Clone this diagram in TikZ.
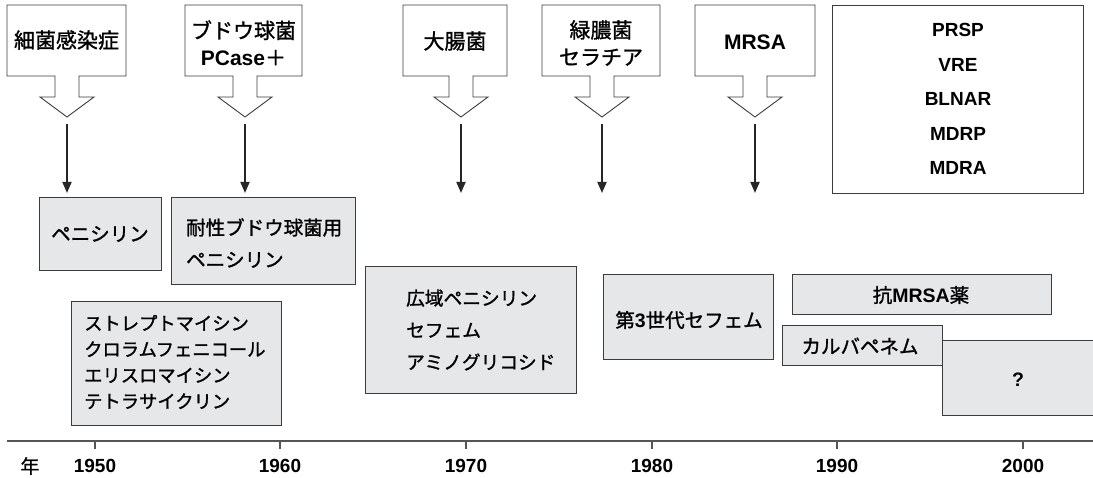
\documentclass[tikz,border=0pt]{standalone}
\usepackage{fontspec}
\setmainfont{Liberation Sans}
\newfontfamily\jp[FakeBold=1.2]{Noto Sans CJK JP}
\usetikzlibrary{arrows.meta}
\definecolor{boxfill}{HTML}{E6E7E8}
\definecolor{edge}{HTML}{3C3C3C}
\definecolor{axiscol}{HTML}{555555}
\newcommand{\jpt}[1]{{\jp\mdseries #1}}
\newcommand{\mycallout}[3]{%
  \draw[calloutbox] (#1,5) -- (#2,5) -- (#2,76) -- ({#3+12},76) -- ({#3+12},97)
    -- ({#3+27},97) -- (#3,117) -- ({#3-27},97) -- ({#3-12},97) -- ({#3-12},76)
    -- (#1,76) -- cycle;}
\tikzset{
  calloutbox/.style={draw=edge, fill=white, line width=0.9pt, line join=miter},
  gbox/.style={draw=edge, fill=boxfill, line width=1.1pt},
  toptext/.style={font=\fontsize{21}{27}\selectfont\bfseries, align=center, inner sep=0pt},
  gtext/.style={font=\fontsize{19.5}{32}\selectfont\bfseries, align=left, inner sep=0pt},
  listtext/.style={font=\fontsize{19}{34.5}\selectfont\bfseries, align=center, inner sep=0pt},
  thinarrow/.style={draw=black!85, line width=1.8pt, -{Triangle[length=11pt,width=9pt]}},
  yearlabel/.style={font=\fontsize{19}{22}\selectfont\bfseries, inner sep=0pt},
  tick/.style={draw=axiscol, line width=1.2pt}
}
\begin{document}
\begin{tikzpicture}[x=1pt,y=-1pt]
\useasboundingbox (0,0) rectangle (1093,478);

% callouts
\mycallout{7}{126}{67}
\mycallout{185}{302}{245}
\mycallout{403}{507}{461}
\mycallout{542}{660}{602}
\mycallout{695}{815}{755}
\node[toptext] (c1) at (66.5,40) {\jpt{細菌感染症}};
\node[toptext] (c2) at (243.5,43) {\jpt{ブドウ球菌}\\PCase\jpt{＋}};
\node[toptext] (c3) at (455,41) {\jpt{大腸菌}};
\node[toptext] (c4) at (601,43) {\jpt{緑膿菌}\\\jpt{セラチア}};
\node[toptext] (c5) at (755,42) {MRSA};

% list box
\node[draw=edge, fill=white, line width=0.9pt, minimum width=251pt, minimum height=188pt, anchor=north west, inner sep=0pt] (list) at (832,5) {};
\node[listtext] (listt) at (958,99) {PRSP\\VRE\\BLNAR\\MDRP\\MDRA};

% thin arrows
\foreach \n/\x in {a1/67,a2/245,a3/461,a4/602,a5/755}{
  \coordinate (\n s) at (\x,124);
  \coordinate (\n e) at (\x,193);
  \draw[thinarrow] (\n s) -- (\n e);
}

% grey boxes
\node[gbox, anchor=north west, minimum width=122pt, minimum height=73pt, inner sep=0pt] (pen) at (39,197) {};
\node[gtext] (pent) at (100,234) {\jpt{ペニシリン}};
\node[gbox, anchor=north west, minimum width=184pt, minimum height=87pt, inner sep=0pt] (tai) at (171,197) {};
\node[gtext, anchor=west] (tait) at (186,243) {\jpt{耐性ブドウ球菌用}\\\jpt{ペニシリン}};
\node[gbox, anchor=north west, minimum width=210pt, minimum height=124pt, inner sep=0pt] (str) at (71,301) {};
\node[gtext, anchor=west, font=\fontsize{18.3}{26}\selectfont] (strt) at (84,362) {\jpt{ストレプトマイシン}\\\jpt{クロラムフェニコール}\\\jpt{エリスロマイシン}\\\jpt{テトラサイクリン}};
\node[gbox, anchor=north west, minimum width=211pt, minimum height=127pt, inner sep=0pt] (kou) at (365,266) {};
\node[gtext, anchor=west, font=\fontsize{18.7}{32}\selectfont] (kout) at (406,330) {\jpt{広域ペニシリン}\\\jpt{セフェム}\\\jpt{アミノグリコシド}};
\node[gbox, anchor=north west, minimum width=170pt, minimum height=85pt, inner sep=0pt] (dai) at (603,274) {};
\node[gtext] (dait) at (689,320) {\jpt{第}3\jpt{世代セフェム}};
\node[gbox, anchor=north west, minimum width=259pt, minimum height=40pt, inner sep=0pt] (mrsa) at (792,274) {};
\node[gtext] (mrsat) at (921,295) {\jpt{抗}MRSA\jpt{薬}};
\node[gbox, anchor=north west, minimum width=155pt, minimum height=75pt, inner sep=0pt] (q) at (942,340) {};
\node[gtext] (qt) at (1018,380) {?};
\node[gbox, anchor=north west, minimum width=160pt, minimum height=40pt, inner sep=0pt] (car) at (782,325) {};
\node[gtext] (cart) at (860,346) {\jpt{カルバペネム}};

% axis
\coordinate (ax0) at (7,441);
\coordinate (ax1) at (1095,441);
\draw[draw=axiscol, line width=1.3pt] (ax0) -- (ax1);
\node[yearlabel] (nen) at (30,466) {\jpt{年}};
\foreach \n/\x/\y in {t1/95/1950,t2/280/1960,t3/466/1970,t4/652/1980,t5/837/1990,t6/1023/2000}{
  \coordinate (\n a) at (\x,441);
  \coordinate (\n b) at (\x,449);
  \draw[tick] (\n a) -- (\n b);
  \node[yearlabel] (\n l) at (\x,466) {\y};
}
\end{tikzpicture}
\end{document}
